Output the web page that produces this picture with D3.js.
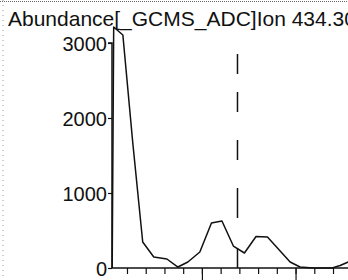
<!DOCTYPE html>
<html><head><meta charset="utf-8">
<script src="https://cdn.jsdelivr.net/npm/d3@7"></script>
<style>
html,body{margin:0;padding:0;background:#fff;}
svg{display:block;}
text{font-family:"Liberation Sans",Arial,sans-serif;fill:#111;}
</style></head>
<body>
<script>
// Data (time in min, abundance)
const times = [9.521, 9.529, 9.578, 9.631, 9.684, 9.743, 9.813, 9.872, 9.925, 9.989, 10.051, 10.107, 10.168, 10.227, 10.289, 10.350, 10.471, 10.524, 10.594, 10.695, 10.738, 10.781];
const abundance = [0, 3213, 3107, 1667, 347, 147, 120, 13, 80, 213, 600, 627, 293, 200, 420, 413, 80, 13, 0, 0, 33, 80];
const yTicks = [0, 1000, 2000, 3000];
const xMinorTicks = [9.6, 9.7, 9.8, 9.9, 10.0, 10.1, 10.2, 10.3, 10.4, 10.5, 10.6, 10.7];
const xMajorTicks = [10.0, 10.5];
const markerTime = 10.19;
const titleText = "Abundance[_GCMS_ADC]Ion 434.30";

const W = 348, H = 280;
const svg = d3.select("body").append("svg").attr("width", W).attr("height", H);

const x = d3.scaleLinear().domain([9.52, 10.78]).range([112, 348]);
const y = d3.scaleLinear().domain([0, 3000]).range([268, 43]);

// scan frame dotted edges
svg.append("line").attr("x1", 0).attr("x2", W).attr("y1", 1.5).attr("y2", 1.5)
  .attr("stroke", "#666").attr("stroke-width", 1).attr("stroke-dasharray", "1,1");
svg.append("line").attr("x1", 3).attr("x2", 3).attr("y1", 0).attr("y2", H)
  .attr("stroke", "#999").attr("stroke-width", 1).attr("stroke-dasharray", "1,4");

// title
svg.append("text").attr("x", 8).attr("y", 26).attr("font-size", 21).text(titleText);

// y axis
const yAxis = d3.axisLeft(y).tickValues(yTicks).tickSize(4).tickPadding(1).tickFormat(d3.format("d"));
const gy = svg.append("g").attr("transform", "translate(112,0)").call(yAxis);
gy.select(".domain").attr("stroke", "#111").attr("stroke-width", 1.5).attr("d", `M-4,${y(3000)}H0V${y(0)}`);
gy.selectAll(".tick line").attr("stroke", "#111").attr("stroke-width", 1.2);
gy.selectAll(".tick text").attr("font-size", 20).attr("font-family", "Liberation Sans, Arial, sans-serif").attr("fill", "#111").attr("dy", "0.36em");

// x axis minor
const xAxisMinor = d3.axisBottom(x).tickValues(xMinorTicks).tickSize(6).tickFormat("");
const gx = svg.append("g").attr("transform", `translate(0,${y(0)})`).call(xAxisMinor);
gx.select(".domain").attr("stroke", "#111").attr("stroke-width", 1.5).attr("d", `M${x.range()[0]},0H${x.range()[1]}`);
gx.selectAll(".tick line").attr("stroke", "#111").attr("stroke-width", 1.2);
const xAxisMajor = d3.axisBottom(x).tickValues(xMajorTicks).tickSize(14).tickFormat("");
const gx2 = svg.append("g").attr("transform", `translate(0,${y(0)})`).call(xAxisMajor);
gx2.select(".domain").remove();
gx2.selectAll(".tick line").attr("stroke", "#111").attr("stroke-width", 1.2);

// dashed marker line
svg.append("line").attr("x1", x(markerTime)).attr("x2", x(markerTime))
  .attr("y1", 54).attr("y2", y(0))
  .attr("stroke", "#111").attr("stroke-width", 1.5)
  .attr("stroke-dasharray", "20,18,20,28,20,28,30,30,20");

// trace
const pts = times.map((t, i) => [t, abundance[i]]);
const line = d3.line().x(d => x(d[0])).y(d => y(d[1]));
svg.append("path").datum(pts).attr("d", line)
  .attr("fill", "none").attr("stroke", "#111").attr("stroke-width", 1.5).attr("stroke-linejoin", "round");
</script>
</body></html>
